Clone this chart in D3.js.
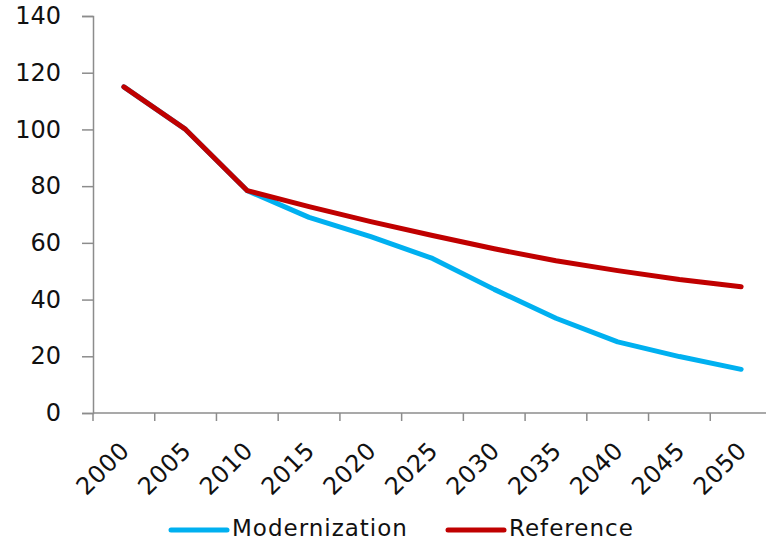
<!DOCTYPE html>
<html>
<head>
<meta charset="utf-8">
<script src="https://cdn.jsdelivr.net/npm/d3@7"></script>
<style>
  html, body { margin: 0; padding: 0; background: #fff; }
  svg { display: block; font-family: "DejaVu Sans", Verdana, sans-serif; }
</style>
</head>
<body>
<svg id="chart" width="766" height="543"></svg>
<script>
// Years on the category axis
const years = ["2000", "2005", "2010", "2015", "2020", "2025", "2030", "2035", "2040", "2045", "2050"];
// Series values
const modernization = [115, 100, 78.4, 69, 62.2, 54.5, 43.6, 33.4, 25.1, 19.9, 15.4];
const reference = [115, 100, 78.4, 72.8, 67.5, 62.6, 57.9, 53.7, 50.2, 47.1, 44.5];
// Y axis ticks
const yTicks = [0, 20, 40, 60, 80, 100, 120, 140];

const series = [
  { name: "Modernization", values: modernization, color: "#00B0F0" },
  { name: "Reference", values: reference, color: "#C00000" }
];

const svg = d3.select("#chart");
const axisColor = "#8c8c8c";

const x = d3.scaleBand().domain(years).range([93, 772]).paddingInner(0).paddingOuter(0);
const y = d3.scaleLinear().domain([0, 140]).range([413, 16]);

// Y axis
const yAxis = svg.append("g").attr("transform", "translate(93,0)")
  .call(d3.axisLeft(y).tickValues(yTicks).tickSize(11).tickPadding(21));
yAxis.select(".domain").attr("stroke", axisColor).attr("stroke-width", 1.5);
yAxis.selectAll(".tick line").attr("stroke", axisColor).attr("stroke-width", 1.5);
yAxis.selectAll(".tick text").attr("fill", "#111").style("font-size", "24px")
  .attr("font-family", "DejaVu Sans, sans-serif");

// X axis: ticks on band boundaries, labels rotated at band centres
const xg = svg.append("g").attr("transform", "translate(0,413)");
xg.append("line").attr("x1", 93).attr("x2", 772).attr("y1", 0).attr("y2", 0)
  .attr("stroke", axisColor).attr("stroke-width", 1.5);
xg.selectAll("line.tick").data(years).enter().append("line")
  .attr("class", "tick")
  .attr("x1", d => x(d)).attr("x2", d => x(d))
  .attr("y1", 0).attr("y2", 8)
  .attr("stroke", axisColor).attr("stroke-width", 1.5);
xg.selectAll("text").data(years).enter().append("text")
  .attr("transform", d => `translate(${x(d) + x.bandwidth() / 2 + 7},${39}) rotate(-45)`)
  .attr("text-anchor", "end")
  .attr("fill", "#111")
  .style("font-size", "24px")
  .style("letter-spacing", "0.5px")
  .text(d => d);

// Lines
const line = d3.line()
  .x((d, i) => x(years[i]) + x.bandwidth() / 2)
  .y(d => y(d));

svg.selectAll("path.series").data(series).enter().append("path")
  .attr("class", "series")
  .attr("d", d => line(d.values))
  .attr("fill", "none")
  .attr("stroke", d => d.color)
  .attr("stroke-width", 5)
  .attr("stroke-linecap", "round")
  .attr("stroke-linejoin", "round");

// Legend
const legendItems = [
  { s: series[0], x: 171 },
  { s: series[1], x: 448 }
];
const lg = svg.append("g");
legendItems.forEach(item => {
  lg.append("line")
    .attr("x1", item.x).attr("x2", item.x + 56)
    .attr("y1", 530).attr("y2", 530)
    .attr("stroke", item.s.color).attr("stroke-width", 5)
    .attr("stroke-linecap", "round");
  lg.append("text")
    .attr("x", item.x + 61).attr("y", 536)
    .attr("fill", "#111")
    .style("font-size", "23px")
    .style("letter-spacing", "1px")
    .text(item.s.name);
});
</script>
</body>
</html>
